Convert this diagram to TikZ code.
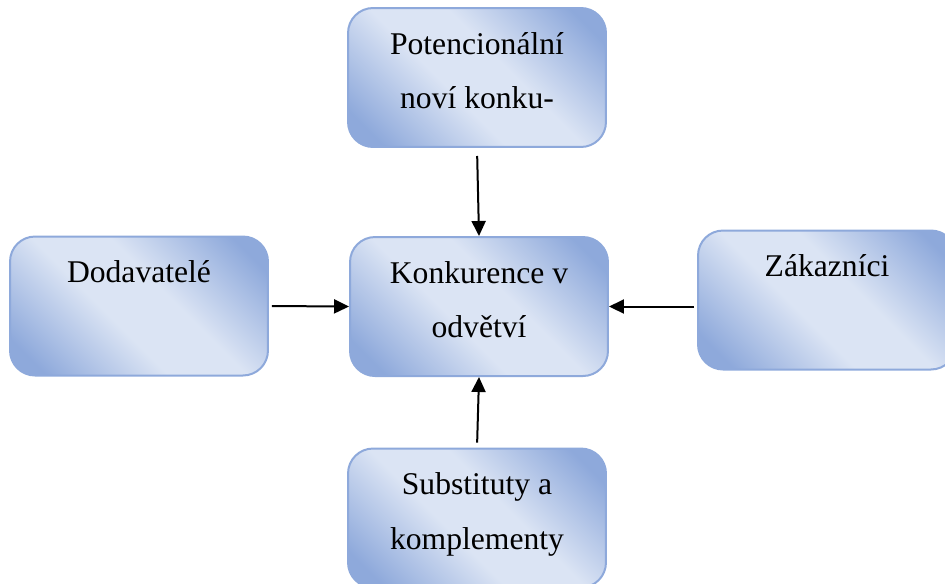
\documentclass[tikz,border=0pt]{standalone}
\usepackage{fontspec}
\setmainfont{Liberation Serif}
\usetikzlibrary{arrows.meta,calc}
\definecolor{tmava}{RGB}{142,169,219}
\definecolor{svetla}{RGB}{219,228,244}
\pgfdeclareverticalshading{dlazdice}{100bp}{color(0bp)=(tmava); color(21bp)=(tmava); color(43bp)=(svetla); color(57bp)=(svetla); color(79bp)=(tmava); color(100bp)=(tmava)}
\newcommand{\radky}[1]{\begin{tabular}[t]{@{}c@{}}#1\end{tabular}}
\begin{document}
\begin{tikzpicture}[x=.02cm, y=-.02cm,
	blok/.style={draw=tmava, line width=.04cm, rounded corners=.5cm, shade, shading=dlazdice, shading angle=-45, minimum width=5.16cm, minimum height=2.78cm},
	popis/.style={anchor=base, inner sep=0pt, font=\fontsize{18}{31.2}\selectfont},
	sipka/.style={line width=.04cm, -{Triangle[length=.3cm, width=.28cm]}}]
	\useasboundingbox (0,0) rectangle (945,583);
	%boxes
	\node[blok] (pot) at (477,77.5) {};
	\node[blok] (dod) at (139,306) {};
	\node[blok] (konk) at (479,306.5) {};
	\node[blok] (zak) at (827,300) {};
	\node[blok] (sub) at (477,518) {};
	%labels
	\node[popis] (tpot) at ($(pot.north)+(0,47)$) {\radky{Potencionální\\noví konku-}};
	\node[popis] (tdod) at ($(dod.north)+(0,47)$) {Dodavatelé};
	\node[popis] (tkonk) at ($(konk.north)+(0,47)$) {\radky{Konkurence v\\odvětví}};
	\node[popis] (tzak) at ($(zak.north)+(0,47)$) {Zákazníci};
	\node[popis] (tsub) at ($(sub.north)+(0,47)$) {\radky{Substituty a\\komplementy}};
	%arrows
	\draw[sipka, shorten <=.16cm] (pot.south) -- (konk.north);
	\draw[sipka, shorten <=.06cm] (dod.east) -- (konk.west);
	\draw[sipka, shorten <=.06cm] (zak.west |- konk.east) -- (konk.east);
	\draw[sipka, shorten <=.1cm] (sub.north) -- (konk.south);
\end{tikzpicture}
\end{document}
